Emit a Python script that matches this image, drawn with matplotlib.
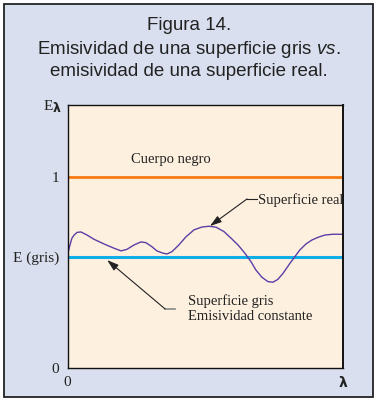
import matplotlib
matplotlib.use("Agg")
import matplotlib.pyplot as plt
from matplotlib.patches import Rectangle

plt.rcParams["mathtext.fontset"] = "custom"
plt.rcParams["mathtext.it"] = "Liberation Sans:italic"
plt.rcParams["mathtext.rm"] = "Liberation Sans"

# ---- data ----
lam = [0.0, 0.009, 0.016, 0.024, 0.035, 0.049, 0.071, 0.096, 0.133, 0.169,
       0.195, 0.216, 0.242, 0.267, 0.285, 0.307, 0.325, 0.347, 0.362, 0.380,
       0.405, 0.431, 0.460, 0.489, 0.515, 0.540, 0.569, 0.595, 0.620, 0.645,
       0.667, 0.685, 0.707, 0.729, 0.747, 0.765, 0.784, 0.809, 0.827, 0.845,
       0.867, 0.889, 0.911, 0.936, 0.965, 1.0]
e_real = [0.592, 0.644, 0.679, 0.696, 0.710, 0.712, 0.696, 0.674, 0.649, 0.627,
          0.613, 0.621, 0.644, 0.660, 0.656, 0.635, 0.613, 0.601, 0.597, 0.609,
          0.644, 0.687, 0.723, 0.738, 0.742, 0.737, 0.714, 0.679, 0.644, 0.601,
          0.557, 0.513, 0.475, 0.452, 0.449, 0.464, 0.496, 0.548, 0.583, 0.618,
          0.649, 0.670, 0.684, 0.696, 0.700, 0.700]
e_negro = 1.0
e_gris = 0.582
ytick_vals = [0, e_gris, 1]
ytick_labels = ["0", "E (gris)", "1"]
xtick_vals = [0, 1]
xtick_labels = ["0", "λ"]

title_lines = ["Figura 14.", "Emisividad de una superficie gris $\\mathit{vs.}$",
               "emisividad de una superficie real."]

W, H = 378, 401
fig = plt.figure(figsize=(W / 100, H / 100), dpi=100)
fig.patch.set_facecolor("white")

# outer panel
fig.patches.append(Rectangle((4 / W, 4 / H), 369 / W, 393 / H, transform=fig.transFigure,
                             facecolor="#D9DFEE", edgecolor="#222222", linewidth=1.3,
                             zorder=-5))

ax = fig.add_axes([67.5 / W, 33 / H, 275 / W, 262.7 / H])
ax.set_zorder(2)
ax.set_facecolor("#FEF0DF")
ax.set_xlim(0, 1)
ax.set_ylim(0, 1.375)

ax.axhline(e_negro, color="#F77A12", lw=2)
ax.axhline(e_gris, color="#10AEE8", lw=2.2)
ax.plot(lam, e_real, color="#5A3FA6", lw=1.0)

for s in ax.spines.values():
    s.set_color("#111111")
    s.set_linewidth(1.0)
ax.spines["right"].set_linewidth(1.4)

serif = "Liberation Serif"
ax.set_yticks(ytick_vals)
ax.set_yticklabels(ytick_labels, family=serif, fontsize=11, color="#222222")
ax.set_xticks(xtick_vals)
ax.set_xticklabels(xtick_labels, family=serif, fontsize=11, color="#222222")
ax.get_xticklabels()[1].set_family("DejaVu Sans")
ax.get_xticklabels()[1].set_fontweight("bold")
ax.get_xticklabels()[1].set_fontsize(10)
ax.tick_params(length=0, pad=6)

# Y axis label E lambda
fig.text(44 / W, 1 - 107 / H, "E", family=serif, fontsize=11, va="center", ha="left",
         color="#222222", zorder=3)
fig.text(53 / W, 1 - 108 / H, "λ", family="DejaVu Sans", fontsize=9, fontweight="bold",
         va="center", ha="left", color="#222222", zorder=3)

ax.text(0.23, 1.089, "Cuerpo negro", family=serif, fontsize=10.5, va="center",
        ha="left", color="#222222")

# Superficie real annotation
ax.text(0.693, 0.88, "Superficie real", family=serif, fontsize=10.5, va="center",
        ha="left", color="#222222", clip_on=False)
ax.plot([0.653, 0.689], [0.885, 0.885], color="#222222", lw=0.8)
ax.annotate("", xy=(0.518, 0.743), xytext=(0.653, 0.885),
            arrowprops=dict(arrowstyle="-|>,head_length=0.7,head_width=0.22",
                            color="#222222", lw=0.8, shrinkA=0, shrinkB=0))

# Superficie gris annotation
ax.text(0.437, 0.351, "Superficie gris", family=serif, fontsize=10.5, va="center",
        ha="left", color="#222222")
ax.text(0.437, 0.267, "Emisividad constante", family=serif, fontsize=10.5,
        va="center", ha="left", color="#222222")
ax.plot([0.355, 0.391], [0.309, 0.309], color="#888888", lw=1.2)
ax.annotate("", xy=(0.144, 0.565), xytext=(0.355, 0.309),
            arrowprops=dict(arrowstyle="-|>,head_length=0.7,head_width=0.22",
                            color="#222222", lw=0.8, shrinkA=0, shrinkB=0))

# title
ys = [26, 49, 72]
for t, y in zip(title_lines, ys):
    fig.text(189 / W, 1 - y / H, t, family="Liberation Sans", fontsize=13.5, ha="center",
             va="center", color="#222222", zorder=3)

fig.savefig("out.png", dpi=100)
